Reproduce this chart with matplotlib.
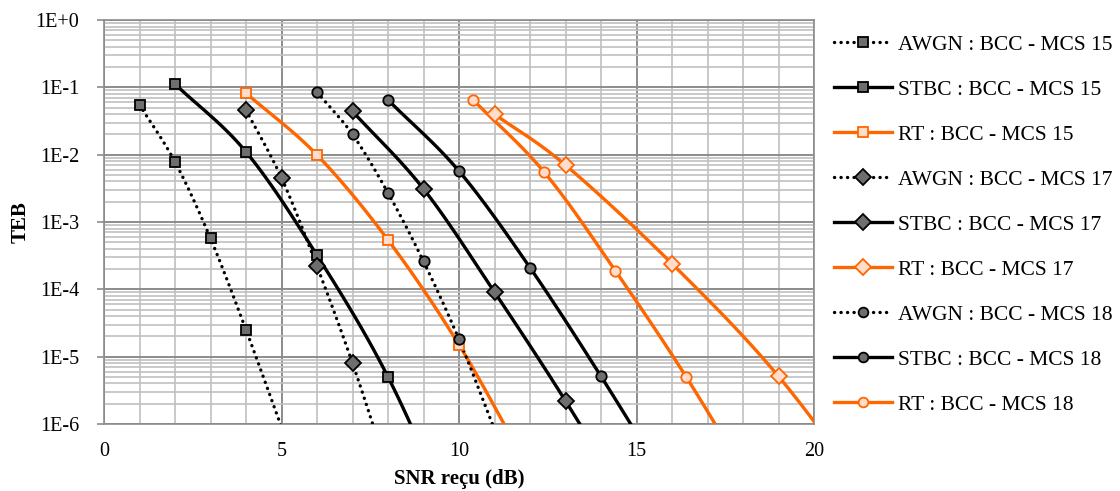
import numpy as np
import matplotlib
matplotlib.use("Agg")
import matplotlib.pyplot as plt
from matplotlib.lines import Line2D
from matplotlib.ticker import FixedLocator, FuncFormatter, LogLocator

plt.rcParams['font.family'] = ['Liberation Serif', 'DejaVu Serif']

# data (last point of each series lies below the axis and is clipped)
awgn15_x = [1, 2, 3, 4, 5]
awgn15_y = [5.5e-2, 7.8e-3, 5.7e-4, 2.5e-5, 9e-7]
stbc15_x = [2, 4, 6, 8, 10]
stbc15_y = [1.12e-1, 1.1e-2, 3.2e-4, 5.0e-6, 2.3e-8]
rt15_x = [4, 6, 8, 10, 12]
rt15_y = [8.2e-2, 9.9e-3, 5.4e-4, 1.5e-5, 2e-7]

awgn17_x = [4, 5, 6, 7, 8]
awgn17_y = [4.6e-2, 4.5e-3, 2.2e-4, 8e-6, 2e-7]
stbc17_x = [7, 9, 11, 13, 15]
stbc17_y = [4.4e-2, 3.1e-3, 9.1e-5, 2.2e-6, 4e-8]
rt17_x = [11, 13, 16, 19, 22]
rt17_y = [4.0e-2, 7.0e-3, 2.4e-4, 5.1e-6, 4e-8]

awgn18_x = [6, 7, 8, 9, 10, 11]
awgn18_y = [8.5e-2, 2.0e-2, 2.7e-3, 2.6e-4, 1.8e-5, 8.3e-7]
stbc18_x = [8, 10, 12, 14, 16]
stbc18_y = [6.5e-2, 5.7e-3, 2.1e-4, 5.1e-6, 1e-7]
rt18_x = [10.4, 12.4, 14.4, 16.4, 18.4]
rt18_y = [6.5e-2, 5.5e-3, 1.9e-4, 5.0e-6, 9e-8]

labels = ['AWGN : BCC - MCS 15', 'STBC : BCC - MCS 15', 'RT : BCC - MCS 15',
          'AWGN : BCC - MCS 17', 'STBC : BCC - MCS 17', 'RT : BCC - MCS 17',
          'AWGN : BCC - MCS 18', 'STBC : BCC - MCS 18', 'RT : BCC - MCS 18']
series = [(awgn15_x, awgn15_y), (stbc15_x, stbc15_y), (rt15_x, rt15_y),
          (awgn17_x, awgn17_y), (stbc17_x, stbc17_y), (rt17_x, rt17_y),
          (awgn18_x, awgn18_y), (stbc18_x, stbc18_y), (rt18_x, rt18_y)]

orange = '#ff6600'
orange_fill = '#ffdccc'
gray_fill = '#6e6e6e'
dots = (0, (0.05, 1.9))


def smooth(x, y, n=30):
    # Catmull-Rom curve through the points in (x, log y), like Excel's smoothed lines
    x = np.asarray(x, float)
    ly = np.log10(y)
    px = np.concatenate([[2 * x[0] - x[1]], x, [2 * x[-1] - x[-2]]])
    py = np.concatenate([[2 * ly[0] - ly[1]], ly, [2 * ly[-1] - ly[-2]]])
    xs, ys = [], []
    t = np.linspace(0, 1, n)
    for i in range(1, len(px) - 2):
        for p, out in ((px, xs), (py, ys)):
            p0, p1, p2, p3 = p[i - 1], p[i], p[i + 1], p[i + 2]
            out.extend(0.5 * (2 * p1 + (-p0 + p2) * t + (2 * p0 - 5 * p1 + 4 * p2 - p3) * t ** 2
                              + (-p0 + 3 * p1 - 3 * p2 + p3) * t ** 3))
    return np.array(xs), 10 ** np.array(ys)


fig = plt.figure(figsize=(11.2, 4.91), dpi=100)
ax = fig.add_axes([104 / 1120, 1 - 424 / 491, 710 / 1120, 404 / 491])

handles = []
for i, ((x, y), lab) in enumerate(zip(series, labels)):
    kind = i % 3
    marker = ['s', 'D', 'o'][i // 3]
    ms = [7.5, 8.5, 7.5][i // 3]
    if kind == 0:
        lc, ls, lw, mfc, mec = 'black', dots, 2.4, gray_fill, 'black'
    elif kind == 1:
        lc, ls, lw, mfc, mec = 'black', '-', 2.4, gray_fill, 'black'
    else:
        lc, ls, lw, mfc, mec = orange, '-', 2.4, orange_fill, orange
    sx, sy = smooth(x, y)
    ax.plot(sx, sy, color=lc, linestyle=ls, lw=lw, dash_capstyle='round', zorder=3)
    vis = np.asarray(y) >= 1e-6
    ax.plot(np.asarray(x)[vis], np.asarray(y)[vis], linestyle='none', marker=marker, ms=ms,
            mfc=mfc, mec=mec, mew=1.3, zorder=4)
    handles.append(Line2D([], [], color=lc, linestyle=ls, lw=lw, dash_capstyle='round',
                          marker=marker, ms=ms - 0.5, mfc=mfc, mec=mec, mew=1.3, label=lab))

ax.set_yscale('log')
ax.set_xlim(0, 20)
ax.set_ylim(1e-6, 1)
ax.xaxis.set_major_locator(FixedLocator([0, 5, 10, 15, 20]))
ax.xaxis.set_minor_locator(FixedLocator(np.arange(0, 21, 1)))
ax.yaxis.set_major_locator(FixedLocator([1e-6, 1e-5, 1e-4, 1e-3, 1e-2, 1e-1, 1]))
ax.yaxis.set_minor_locator(LogLocator(base=10, subs=np.arange(2, 10), numticks=20))
ax.yaxis.set_major_formatter(FuncFormatter(lambda v, p: '1E%+d' % round(np.log10(v)) if v < 1 else '1E+0'))
ax.yaxis.set_minor_formatter(FuncFormatter(lambda v, p: ''))

ax.grid(True, which='major', color='#8c8c8c', lw=1.4, zorder=1)
ax.grid(True, which='minor', color='#c0c0c0', lw=1.2, zorder=0)
ax.set_axisbelow(True)
for s in ax.spines.values():
    s.set_color('#8c8c8c')
    s.set_linewidth(1.2)
ax.tick_params(which='both', length=0, labelsize=14.5)
ax.tick_params(axis='x', pad=13)
ax.tick_params(axis='y', which='major', length=5, color='#8c8c8c', width=1.2, pad=13)
ax.set_xlabel('SNR reçu (dB)', fontsize=15, fontweight='bold', labelpad=6)
ax.set_ylabel('TEB', fontsize=15, fontweight='bold', labelpad=3)

fig.legend(handles=handles, loc='upper left', bbox_to_anchor=(825 / 1120, 1 - 26 / 491),
           frameon=False, fontsize=15.5, labelspacing=1.16, handlelength=2.7,
           handletextpad=0.3, borderaxespad=0)

fig.savefig('out.png', dpi=100)
